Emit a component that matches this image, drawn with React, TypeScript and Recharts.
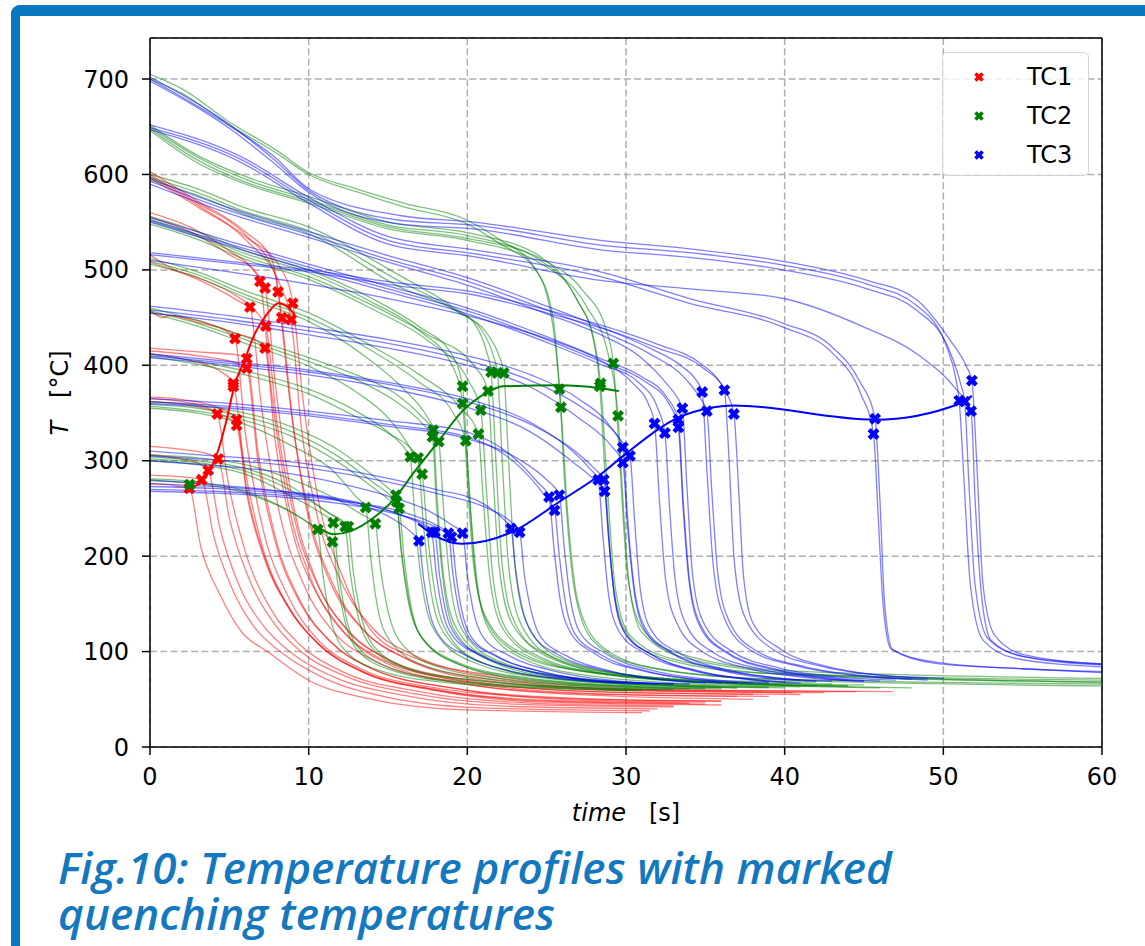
import React from "react";
import {
  ComposedChart, Line, Scatter, XAxis, YAxis, CartesianGrid, ReferenceLine,
} from "recharts";

// ---- temperature profiles, [time s, temperature °C] ----
const tc1Curves: number[][][] = [
  [[0,603],[3,572],[6,540],[7.7,510],[8.07,477],[8.8,365],[9.8,255],[11.3,175],[13.3,125],[16,94],[21,72],[30,60],[46.8,58]],
  [[0,598],[3,568],[6,535],[8.3,500],[9.0,465],[9.6,370],[10.6,260],[12.1,180],[13.8,125],[16.3,96],[22,74],[31,61],[44.5,58]],
  [[0,600],[3,570],[6,537],[7.9,495],[8.3,450],[9.0,340],[10,245],[11.5,172],[13.5,122],[16.2,92],[21,70],[30,59],[42.5,57]],
  [[0,596],[3,566],[6,532],[8.3,480],[8.9,448],[9.5,340],[10.5,245],[12,175],[14,125],[16.8,95],[22,72],[30,60],[40.5,57]],
  [[0,560],[2.5,545],[5,520],[6.5,500],[6.93,488],[7.6,380],[8.6,265],[10.1,178],[12,125],[14.6,92],[19.5,70],[28,58],[38,55]],
  [[0,555],[2.5,540],[5,516],[6.8,495],[7.25,481],[7.9,380],[8.9,265],[10.4,178],[12.3,125],[15,92],[20,70],[28,58],[41,55]],
  [[0,516],[0.7,508],[1.2,503],[3,492],[5.5,472],[6.3,461],[7,360],[8.1,250],[9.7,170],[11.6,120],[14.2,90],[19,68],[27,56],[37,53]],
  [[0,508],[3,490],[5.5,468],[6.9,452],[7.3,441],[8,340],[9.1,240],[10.7,165],[12.6,120],[15.2,90],[20,68],[28,56],[39,53]],
  [[0,458],[0.8,450],[1.3,452],[3,445],[4.8,436],[5.36,428],[6,330],[7.1,230],[8.7,158],[10.6,112],[13.3,82],[18,62],[26,51],[36,48]],
  [[0,455],[3,447],[5.5,433],[6.8,425],[7.25,418],[7.9,320],[9,225],[10.6,158],[12.5,115],[15,87],[20,66],[28,54],[38,50]],
  [[0,418],[3,414],[5.5,411],[6.1,407],[6.8,310],[7.9,220],[9.5,152],[11.4,110],[14,82],[19,62],[27,51],[36,48]],
  [[0,415],[3,410],[5.5,402],[6.1,397],[6.8,300],[7.9,215],[9.5,150],[11.4,110],[14,82],[19,62],[26,50],[35,47]],
  [[0,412],[2.5,405],[4.6,392],[5.25,381],[5.9,300],[7,215],[8.6,150],[10.5,110],[13.2,80],[18,60],[25,49],[34,46]],
  [[0,367],[2.5,363],[4.8,352],[5.46,343],[6.1,270],[7.2,200],[8.8,145],[10.6,108],[13.3,80],[18,60],[25,48],[35,45]],
  [[0,362],[2.5,358],[4.8,346],[5.46,337],[6.1,265],[7.2,198],[8.9,142],[10.8,105],[13.5,78],[18,59],[25,47],[36,44]],
  [[0,365],[2,362],[3.7,355],[4.24,349],[4.9,280],[6,205],[7.6,145],[9.4,108],[12,80],[17,58],[24,46],[33,43]],
  [[0,315],[2,312],[3.7,307],[4.3,302],[5,240],[6.2,178],[7.8,130],[9.5,100],[12.2,75],[17,55],[23,45],[33,42]],
  [[0,306],[2,302],[3.2,296],[3.67,290],[4.4,230],[5.6,170],[7.1,128],[8.8,100],[11.5,74],[16,54],[22,43],[32,40]],
  [[0,285],[2,283],[3.26,280],[4,222],[5.2,165],[6.6,125],[8.2,100],[11,72],[15,52],[21,41],[31.5,38]],
  [[0,276],[1.5,274],[2.48,271],[3.2,210],[4.4,160],[5.8,120],[7.4,100],[10,70],[14,50],[20,39],[31,36]],
];

const tc2Curves: number[][][] = [
  [[0,705],[2,690],[5,655],[8,625],[10,602],[13,585],[16,570],[20,552],[22,532],[24.2,503],[25.2,460],[25.8,375],[26.2,260],[26.8,160],[28,110],[31,85],[38,72],[60,66]],
  [[0,700],[2,685],[5,652],[8,622],[10,600],[13,582],[16,566],[20,548],[22,528],[24.4,498],[25.4,450],[25.9,356],[26.3,250],[27,150],[28.5,105],[32,82],[40,70],[60,64]],
  [[0,652],[3,620],[6,598],[10,577],[15,550],[20,539],[24.6,514],[26.9,469],[27.9,430],[28.35,378],[28.7,280],[29.2,170],[30,120],[32,95],[38,78],[60,70]],
  [[0,650],[3,618],[6,595],[10,574],[15,547],[20,536],[24.6,510],[27,466],[28,425],[28.4,381],[28.8,280],[29.3,170],[30.2,118],[33,92],[40,76],[60,68]],
  [[0,648],[3,615],[6,592],[10,572],[15,545],[20,533],[24.6,512],[27.3,478],[28.7,440],[29.2,402],[29.6,300],[30.1,180],[31,125],[33,100],[40,80],[60,72]],
  [[0,646],[3,612],[6,590],[10,570],[15,543],[20,531],[24.8,505],[27.5,462],[28.9,410],[29.5,347],[29.8,260],[30.2,170],[31,120],[34,92],[42,76],[60,68]],
  [[0,600],[3,585],[6,565],[10,545],[15.75,494],[19,462],[20.6,440],[21.2,415],[21.5,393],[21.8,300],[22.2,190],[23,130],[25,95],[30,75],[38,66],[44,64]],
  [[0,597],[3,581],[6,561],[10,541],[15.75,488],[19.2,458],[20.9,437],[21.6,412],[21.9,392],[22.2,300],[22.6,190],[23.4,128],[25.5,93],[30,74],[40,64],[46,62]],
  [[0,594],[3,578],[6,558],[10,538],[15.75,482],[19.5,455],[21.3,432],[22,410],[22.3,392],[22.6,300],[23,190],[23.8,128],[26,92],[31,74],[42,64],[48,62]],
  [[0,556],[3,540],[6,520],[10,500],[14,470],[17,440],[19,412],[19.7,378],[20,300],[20.4,200],[21,140],[23,100],[27,80],[35,70],[42,68]],
  [[0,553],[3,537],[6,517],[10,497],[14,466],[17,436],[19.1,398],[19.7,360],[20,280],[20.4,190],[21.2,135],[23.5,98],[28,78],[36,68],[43,66]],
  [[0,551],[3,535],[6,514],[10,493],[14,463],[17.5,432],[20.4,400],[21.3,373],[21.6,290],[22,190],[22.8,130],[25,97],[30,76],[38,67],[45,65]],
  [[0,548],[3,532],[6,511],[10,490],[14,459],[17.5,426],[20.1,383],[20.85,353],[21.2,270],[21.6,180],[22.4,125],[24.5,95],[29,76],[38,66],[44,64]],
  [[0,512],[3,498],[6,478],[10,455],[14,420],[17,390],[19.6,355],[20.7,328],[21,260],[21.4,180],[22.2,125],[24.5,93],[29,75],[37,66],[42,64]],
  [[0,509],[3,495],[6,474],[10,450],[14,415],[17,382],[19.1,350],[19.9,321],[20.2,250],[20.6,175],[21.4,122],[23.6,92],[28,74],[36,65],[41,63]],
  [[0,506],[3,492],[6,471],[10,446],[13.5,410],[16,375],[17.5,345],[18.2,320],[18.5,250],[18.9,175],[19.7,122],[22,90],[27,72],[35,64],[40,62]],
  [[0,460],[3,447],[6,430],[10,408],[13,390],[15.5,370],[17.2,345],[17.85,332],[18.1,260],[18.5,180],[19.3,125],[21.5,92],[26,74],[34,65],[39,63]],
  [[0,457],[3,444],[6,427],[10,404],[13,385],[15.5,362],[17.1,340],[17.8,325],[18.05,255],[18.45,178],[19.2,122],[21.5,90],[26,72],[34,64],[39,62]],
  [[0,455],[3,441],[6,423],[10,399],[13,372],[15,345],[16.5,310],[17.15,286],[17.45,230],[17.9,168],[18.8,118],[21,88],[25.5,72],[33,64],[37,62]],
  [[0,412],[3,404],[6,394],[10,375],[13,352],[15,330],[16.1,312],[16.4,304],[16.7,240],[17.1,175],[18,120],[20.5,88],[25,72],[33,64],[36,62]],
  [[0,409],[3,401],[6,390],[10,370],[13,346],[15.3,326],[16.5,312],[16.9,303],[17.2,240],[17.6,175],[18.5,120],[21,88],[25.5,72],[33,64],[37,62]],
  [[0,362],[3,358],[6,350],[9,335],[12,310],[14,285],[15.1,270],[15.5,264],[15.8,210],[16.2,160],[17,118],[19.5,88],[24,72],[31,64],[35,62]],
  [[0,359],[3,355],[6,346],[9,330],[12,303],[14,278],[15.2,263],[15.55,257],[15.85,205],[16.3,155],[17.1,115],[19.6,86],[24,71],[31,63],[35,61]],
  [[0,357],[3,352],[6,342],[9,325],[12,297],[14.2,270],[15.3,256],[15.7,250],[16,200],[16.4,152],[17.2,113],[19.7,85],[24,70],[31,63],[36,61]],
  [[0,355],[3,350],[6,338],[9,315],[11.5,290],[13,262],[13.6,251],[13.9,200],[14.3,150],[15.1,112],[17.5,84],[22,70],[29,63],[33,61]],
  [[0,306],[3,303],[6,296],[9,280],[11.5,262],[13.3,244],[14.2,234],[14.5,190],[14.9,150],[15.7,112],[18,85],[23,70],[30,63],[34,61]],
  [[0,304],[3,300],[6,292],[9,272],[11,248],[12.3,231],[12.6,185],[13,145],[13.8,108],[16,83],[21,69],[28,62],[32,60]],
  [[0,302],[3,298],[6,289],[9,268],[11.3,245],[12.5,231],[12.8,185],[13.2,145],[14,108],[16.2,83],[21,69],[28,62],[33,60]],
  [[0,300],[3,296],[6,286],[9,262],[10.8,245],[11.55,235],[11.85,188],[12.25,145],[13,107],[15.3,82],[20,68],[27,62],[31,60]],
  [[0,281],[3,278],[6,268],[8.5,250],[10,235],[10.57,228],[10.9,180],[11.3,140],[12.1,105],[14.5,80],[19,67],[26,61],[30,59]],
  [[0,279],[3,276],[6,266],[9,245],[10.8,225],[11.5,215],[11.8,175],[12.2,138],[13,103],[15.3,80],[20,67],[27,61],[31,59]],
];

const tc3Curves: number[][][] = [
  [[0,700],[5.2,649],[7.8,619],[10.1,584],[15.75,557],[20.4,550],[28.4,531],[34,522],[39.9,509],[45.2,489],[48.3,469],[50.4,427],[51.45,399],[51.8,384],[52.1,300],[52.5,170],[53.2,118],[55,97],[60,87]],
  [[0,702],[5.2,650],[7.8,616],[10.1,582],[15.75,552],[20.4,547],[28.4,526],[34,518],[39.9,505],[45.2,485],[48.3,463],[50.2,420],[50.8,385],[51.0,363],[51.3,280],[51.7,170],[52.5,112],[54.5,93],[60,84]],
  [[0,698],[5.2,646],[7.8,612],[10.1,580],[15.75,548],[20.4,543],[28.4,521],[34,513],[39.9,500],[45.2,480],[48.3,458],[50.4,415],[51.1,380],[51.35,362],[51.6,280],[52,170],[52.8,114],[55,95],[60,86]],
  [[0,652],[5.7,619],[9.9,577],[15,535],[20.4,521],[28.4,498],[34,470],[39.9,444],[43,419],[44.7,384],[45.7,344],[46,260],[46.3,150],[46.8,102],[49.4,88],[55,82],[60,78]],
  [[0,649],[5.7,616],[9.9,574],[15,531],[20.4,517],[28.4,493],[34,465],[39.9,440],[43,413],[44.8,370],[45.6,328],[45.9,240],[46.2,150],[46.7,103],[49.5,89],[55,82],[60,79]],
  [[0,647],[5.7,613],[9.9,571],[15,527],[20.4,514],[28.4,489],[34,480],[39.9,470],[45,440],[48.5,410],[50.8,375],[51.75,352],[52,260],[52.4,160],[53,112],[55,95],[60,87]],
  [[0,596],[5,565],[10,540],[15,515],[20,492],[25,462],[28.4,440],[31.5,418],[33.6,398],[34.4,385],[34.8,372],[35.1,290],[35.5,190],[36.2,135],[37.8,102],[41,84],[45,74],[48,71]],
  [[0,593],[5,562],[10,537],[15,511],[20,488],[25,458],[28.4,436],[31.5,412],[33.8,385],[34.7,365],[35.1,352],[35.4,270],[35.8,180],[36.5,132],[38.1,102],[41.3,84],[45.5,74],[49,70]],
  [[0,590],[5,559],[10,534],[15,508],[20,484],[25,454],[28.4,432],[30.8,410],[32.6,380],[33.2,367],[33.55,355],[33.85,270],[34.2,180],[34.9,130],[36.6,101],[39.6,83],[43.6,73],[47,70]],
  [[0,555],[5,530],[10,506],[15,483],[20,460],[25,430],[28.4,407],[31,388],[32.6,366],[33.3,343],[33.6,260],[34,175],[34.7,128],[36.3,100],[39.3,82],[43.3,72],[46,69]],
  [[0,552],[5,527],[10,503],[15,480],[20,457],[25,427],[28.4,404],[31.2,383],[32.7,360],[33.3,335],[33.6,250],[34,170],[34.7,125],[36.3,99],[39.3,81],[43.3,71],[45,69]],
  [[0,550],[5,525],[10,500],[15,477],[20,454],[25,424],[28.4,401],[30.8,382],[32,355],[32.45,329],[32.75,250],[33.1,175],[33.8,128],[35.4,100],[38.4,82],[42.4,72],[44,70]],
  [[0,518],[5,509],[10,500],[15.75,486],[20,478],[25,458],[29.4,437],[32,422],[34.7,402],[35.8,385],[36.2,374],[36.5,300],[36.8,200],[37.4,140],[39.2,103],[42.2,85],[46.2,75],[50,72]],
  [[0,516],[5,507],[10,498],[15.75,483],[20,475],[25,455],[29.4,434],[32,418],[34.8,398],[36.3,372],[36.8,349],[37.1,270],[37.4,180],[38,130],[39.8,102],[42.8,84],[46.8,74],[49,72]],
  [[0,510],[5,498],[10,485],[15,470],[20,452],[25,428],[28.4,405],[30.5,380],[31.4,360],[31.8,339],[32.1,260],[32.5,175],[33.2,130],[34.8,100],[37.8,82],[41.8,72],[45,69]],
  [[0,462],[5,452],[10,440],[15,427],[20,410],[24,390],[27,365],[29,336],[29.8,314],[30.1,240],[30.5,170],[31.2,125],[32.8,100],[35.8,82],[39.8,72],[43,69]],
  [[0,458],[5,448],[10,436],[15,423],[20,405],[24,384],[27.3,355],[29.5,325],[30.25,305],[30.55,235],[30.9,165],[31.6,122],[33.3,99],[36.3,81],[40.3,71],[42,69]],
  [[0,455],[5,445],[10,432],[15,418],[20,400],[24,377],[27,345],[29.1,315],[29.8,298],[30.1,230],[30.5,165],[31.2,122],[32.8,99],[35.8,81],[39.8,71],[41,70]],
  [[0,412],[5,404],[10,395],[15,382],[20,365],[24,340],[26.5,312],[27.7,292],[28.25,280],[28.55,220],[28.9,160],[29.6,120],[31.2,98],[34.2,80],[38.2,70],[41,67]],
  [[0,410],[5,402],[10,393],[15,380],[20,362],[24,338],[26.8,310],[28,292],[28.6,280],[28.9,220],[29.25,160],[29.9,120],[31.5,98],[34.5,80],[38.5,70],[40,68]],
  [[0,408],[5,400],[10,390],[15,376],[20,356],[24,330],[26.7,298],[28,280],[28.65,268],[28.95,210],[29.3,155],[30,118],[31.6,97],[34.6,79],[38.6,69],[39,68]],
  [[0,365],[5,360],[10,352],[15,342],[20,330],[22.8,305],[24.4,278],[25.15,262],[25.45,210],[25.8,160],[26.5,120],[28,98],[31,80],[35,70],[38,67]],
  [[0,362],[5,357],[10,349],[15,338],[20,325],[23,298],[24.8,265],[25.5,248],[25.8,200],[26.15,155],[26.8,118],[28.4,97],[31.4,79],[35.4,69],[37,67]],
  [[0,360],[5,355],[10,347],[15,336],[20,323],[23.2,302],[25,280],[25.8,264],[26.1,210],[26.45,160],[27.1,120],[28.7,98],[31.7,80],[35.7,70],[39,67]],
  [[0,310],[4,305],[8.2,300],[14,285],[18,270],[21,255],[22.2,240],[22.75,229],[23.05,185],[23.4,150],[24.1,118],[25.7,97],[28.7,80],[32.7,70],[36,67]],
  [[0,305],[4,301],[8.2,296],[14,281],[18,266],[21.3,250],[22.8,235],[23.3,225],[23.6,180],[23.95,148],[24.6,116],[26.2,96],[29.2,79],[33.2,69],[35,67]],
  [[0,300],[4,295],[8.2,288],[12,276],[15,263],[17.5,248],[19,233],[19.7,224],[20,180],[20.35,145],[21,115],[22.6,96],[25.6,79],[29.6,69],[33,66]],
  [[0,280],[4,275],[8.2,268],[12,258],[15,242],[16.4,226],[16.95,216],[17.25,175],[17.6,143],[18.3,115],[19.9,96],[22.9,79],[26.9,70],[30,67]],
  [[0,276],[4,273],[8.2,268],[12,260],[15.5,245],[17.2,232],[17.75,225],[18.05,180],[18.4,145],[19.1,116],[20.7,97],[23.7,80],[27.7,70],[31,67]],
  [[0,273],[4,271],[8.2,266],[12,259],[15.7,244],[17.4,232],[17.95,225],[18.25,180],[18.6,145],[19.3,116],[20.9,96],[23.9,79],[27.9,69],[32,66]],
  [[0,270],[4,268],[8.2,264],[12,258],[16,246],[18.1,232],[18.8,224],[19.1,180],[19.45,145],[20.1,115],[21.7,96],[24.7,79],[28.7,69],[34,66]],
  [[0,268],[4,266],[8.2,262],[12,255],[16,242],[18.3,228],[19.0,220],[19.3,178],[19.65,143],[20.3,114],[21.9,95],[24.9,78],[28.9,68],[33,66]],
];

// ---- marked quenching temperatures ----
const tc1Quench = [
  [2.48,271],[3.26,280],[3.67,290],[4.3,302],[4.24,349],[5.46,343],[5.46,337],[5.25,381],[5.25,378],
  [6.1,397],[6.1,407],[5.36,428],[7.25,418],[6.3,461],[7.3,441],[6.93,488],[7.25,481],[8.07,477],
  [8.3,450],[8.9,448],[9.0,465],
];
const tc2Quench = [
  [2.5,275],[10.57,228],[11.5,215],[11.55,235],[12.3,231],[12.5,231],[13.6,251],[14.2,234],[15.5,264],
  [15.55,257],[15.7,250],[16.4,304],[16.9,303],[17.15,286],[17.8,325],[17.85,332],[18.2,320],[19.7,360],
  [19.7,378],[19.9,321],[20.7,328],[20.85,353],[21.3,373],[21.5,393],[21.9,392],[22.3,392],[25.8,375],
  [25.9,356],[28.35,378],[28.4,381],[29.2,402],[29.5,347],
];
const tc3Quench = [
  [16.95,216],[17.75,225],[17.95,225],[18.8,224],[19.0,220],[19.7,224],[22.75,229],[23.3,225],[25.15,262],
  [25.5,248],[25.8,264],[28.25,280],[28.6,280],[28.65,268],[29.8,314],[29.8,298],[30.25,305],[31.8,339],
  [32.45,329],[33.3,335],[33.3,343],[33.55,355],[34.8,372],[35.1,352],[36.2,374],[36.8,349],[45.6,328],
  [45.7,344],[51.0,363],[51.35,362],[51.75,352],[51.8,384],
];

// ---- smoothed trend through the markers ----
const tc1Trend = [[2.48,271],[3.36,280],[3.78,290],[4.3,311],[4.83,343],[5.36,381],[5.88,402],[6.6,433],[7.35,453],[8.1,465],[8.5,463],[9.13,453]];
const tc2Trend = [[10.57,231],[11.55,223],[12.6,226],[14.07,240],[15.4,260],[16.6,287],[18.07,318],[19.75,353],[21.3,372],[22.25,378],[25.8,379],[28.35,376],[29.55,373]];
const tc3Trend = [[16.9,234],[17.9,222],[19.65,213],[22.9,226],[25.8,257],[28.35,285],[30.04,308],[33.4,346],[35.2,355],[36.75,358],[45.7,343],[51.05,360],[51.8,368]];

const xTicks = [0, 10, 20, 30, 40, 50, 60];
const yTicks = [0, 100, 200, 300, 400, 500, 600, 700];
const captionLines = ["Fig.10: Temperature profiles with marked", "quenching temperatures"];

const toPts = (arr: number[][]) => arr.map(([t, T]) => ({ t, T }));

const XMark = (props: any) => {
  const { cx, cy, fill, s = 6.2, a = 2.2 } = props;
  if (cx == null || cy == null) return null;
  const pts = [[-a,-s],[a,-s],[a,-a],[s,-a],[s,a],[a,a],[a,s],[-a,s],[-a,a],[-s,a],[-s,-a],[-a,-a]];
  const c = Math.SQRT1_2;
  const d = pts.map(([x, y], i) => `${i ? "L" : "M"}${cx + (x - y) * c},${cy + (x + y) * c}`).join("") + "Z";
  return <path d={d} fill={fill} />;
};

const font = "'DejaVu Sans', sans-serif";
const tickStyle = { fill: "#000", fontSize: 24, fontFamily: font };

export default function App() {
  const curveSets: [number[][][], string, string][] = [
    [tc1Curves, "#ff0000", "r"],
    [tc2Curves, "#008000", "g"],
    [tc3Curves, "#0000ff", "b"],
  ];
  return (
    <div style={{ position: "absolute", left: 0, top: 0, width: 1145, height: 946, background: "#fff", overflow: "hidden", fontFamily: font }}>
      {/* blue page frame */}
      <div style={{ position: "absolute", left: 11, top: 5, width: 1200, height: 1000, borderLeft: "9px solid #0a78c0", borderTop: "11px solid #0a78c0", borderTopLeftRadius: 9 }} />

      <ComposedChart width={1145} height={946} margin={{ top: 38, right: 43, bottom: 139, left: 90 }} style={{ position: "absolute", left: 0, top: 0 }}>
        <CartesianGrid stroke="#b0b0b0" strokeDasharray="7 3.3" strokeWidth={1.5} />
        <XAxis dataKey="t" type="number" domain={[0, 60]} ticks={xTicks} allowDataOverflow height={60}
          stroke="#000" strokeWidth={1.5} tickSize={8} tickMargin={13} tick={tickStyle} />
        <YAxis type="number" domain={[0, 743]} ticks={yTicks} allowDataOverflow width={60}
          stroke="#000" strokeWidth={1.5} tickSize={8} tickMargin={13} tick={tickStyle} />
        <ReferenceLine y={743} stroke="#000" strokeWidth={1.5} />
        <ReferenceLine x={60} stroke="#000" strokeWidth={1.5} />

        {curveSets.map(([curves, color, k]) =>
          curves.map((c, i) => (
            <Line key={k + i} data={toPts(c)} dataKey="T" type="monotone" stroke={color} strokeOpacity={0.5}
              strokeWidth={1.3} dot={false} activeDot={false} isAnimationActive={false} />
          ))
        )}

        <Line data={toPts(tc1Trend)} dataKey="T" type="monotone" stroke="#ff0000" strokeWidth={2} dot={false} isAnimationActive={false} />
        <Line data={toPts(tc2Trend)} dataKey="T" type="monotone" stroke="#008000" strokeWidth={2} dot={false} isAnimationActive={false} />
        <Line data={toPts(tc3Trend)} dataKey="T" type="monotone" stroke="#0000ff" strokeWidth={2} dot={false} isAnimationActive={false} />

        <Scatter data={toPts(tc1Quench)} dataKey="T" fill="#ff0000" shape={<XMark />} isAnimationActive={false} />
        <Scatter data={toPts(tc2Quench)} dataKey="T" fill="#008000" shape={<XMark />} isAnimationActive={false} />
        <Scatter data={toPts(tc3Quench)} dataKey="T" fill="#0000ff" shape={<XMark />} isAnimationActive={false} />
      </ComposedChart>

      {/* axis labels */}
      <div style={{ position: "absolute", left: 526, width: 200, top: 798, textAlign: "center", fontSize: 24, lineHeight: "30px", whiteSpace: "pre" }}>
        <i>time</i>{"   [s]"}
      </div>
      <div style={{ position: "absolute", left: 60 - 100, width: 200, top: 378, textAlign: "center", fontSize: 24, lineHeight: "30px", whiteSpace: "pre", transform: "rotate(-90deg)" }}>
        <i>T</i>{"   [°C]"}
      </div>

      {/* legend */}
      <div style={{ position: "absolute", left: 942, top: 52, width: 145, height: 122, border: "1.5px solid #d4d4d4", borderRadius: 5, background: "rgba(255,255,255,0.8)" }}>
        {([["TC1", "#ff0000"], ["TC2", "#008000"], ["TC3", "#0000ff"]] as [string, string][]).map(([name, col], i) => (
          <div key={name} style={{ position: "absolute", left: 0, top: 10 + i * 39, height: 28, width: 145 }}>
            <svg width={20} height={20} style={{ position: "absolute", left: 26, top: 4 }}>
              <XMark cx={10} cy={10} fill={col} s={5} a={1.8} />
            </svg>
            <span style={{ position: "absolute", left: 84, top: 0, fontSize: 24, lineHeight: "28px" }}>{name}</span>
          </div>
        ))}
      </div>

      {/* caption */}
      {captionLines.map((line, i) => (
        <div key={i} style={{ position: "absolute", left: 58, top: 845 + i * 46, height: 44, fontFamily: "'Open Sans', sans-serif", fontStyle: "italic", fontWeight: 600, fontSize: 44, lineHeight: "44px", color: "#1378bd", letterSpacing: 0.1, whiteSpace: "nowrap" }}>
          {line}
        </div>
      ))}
    </div>
  );
}
